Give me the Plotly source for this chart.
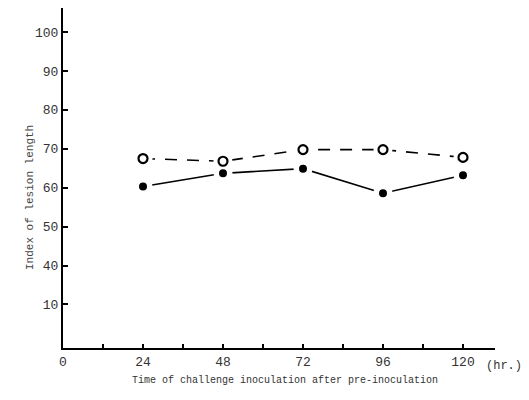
import plotly.graph_objects as go

hours = [24, 48, 72, 96, 120]
open_series = [67.5, 66.8, 69.8, 69.8, 67.8]
filled_series = [60.3, 63.7, 64.9, 58.6, 63.2]

x_tickvals = [0, 12, 24, 36, 48, 60, 72, 84, 96, 108, 120]
x_ticktext = ["0", "", "24", "", "48", "", "72", "", "96", "", "120"]
y_tickvals = [30, 40, 50, 60, 70, 80, 90, 100]
y_ticktext = ["10", "40", "50", "60", "70", "80", "90", "100"]

MONO = "Liberation Mono, DejaVu Sans Mono, monospace"

fig = go.Figure()

fig.add_trace(go.Scatter(x=hours, y=open_series, mode="lines",
                         line=dict(color="black", width=1.6, dash="12px,10px"),
                         hoverinfo="skip", showlegend=False))
fig.add_trace(go.Scatter(x=hours, y=filled_series, mode="lines",
                         line=dict(color="black", width=1.6),
                         hoverinfo="skip", showlegend=False))
# white halos to create gaps around the points
for ys in (open_series, filled_series):
    fig.add_trace(go.Scatter(x=hours, y=ys, mode="markers",
                             marker=dict(size=19, color="white", line=dict(width=0)),
                             hoverinfo="skip", showlegend=False))
fig.add_trace(go.Scatter(x=hours, y=open_series, mode="markers",
                         marker=dict(symbol="circle", size=9, color="white",
                                     line=dict(color="black", width=2.2)),
                         showlegend=False))
fig.add_trace(go.Scatter(x=hours, y=filled_series, mode="markers",
                         marker=dict(symbol="circle", size=8, color="black",
                                     line=dict(color="black", width=0)),
                         showlegend=False))

fig.update_layout(
    width=529, height=400,
    margin=dict(l=63, r=34, t=8, b=52),
    paper_bgcolor="white", plot_bgcolor="white",
    font=dict(family=MONO, color="#222"),
    xaxis=dict(range=[0, 129.6], showgrid=False, zeroline=False,
               showline=True, linecolor="black", linewidth=2,
               ticks="inside", ticklen=4, tickwidth=1.5, tickcolor="black",
               tickvals=x_tickvals, ticktext=x_ticktext,
               tickfont=dict(family=MONO, size=13, color="#333")),
    yaxis=dict(range=[18.8, 106.2], showgrid=False, zeroline=False,
               showline=True, linecolor="black", linewidth=2,
               ticks="inside", ticklen=5, tickwidth=1.5, tickcolor="black",
               tickvals=y_tickvals, ticktext=y_ticktext,
               tickfont=dict(family=MONO, size=13, color="#333")),
    annotations=[
        dict(text="(hr.)", xref="paper", yref="paper", x=0.975, y=-0.052,
             showarrow=False, xanchor="left", yanchor="middle",
             font=dict(family=MONO, size=12, color="#333")),
        dict(text="Time of challenge inoculation after pre-inoculation",
             xref="paper", yref="paper", x=0.514, y=-0.118,
             showarrow=False, font=dict(family=MONO, size=10, color="#333")),
        dict(text="Index of lesion length", textangle=-90,
             xref="paper", yref="paper", x=-0.095, y=0.444,
             showarrow=False, font=dict(family=MONO, size=11, color="#444")),
    ],
)

fig.write_html("out.html")
